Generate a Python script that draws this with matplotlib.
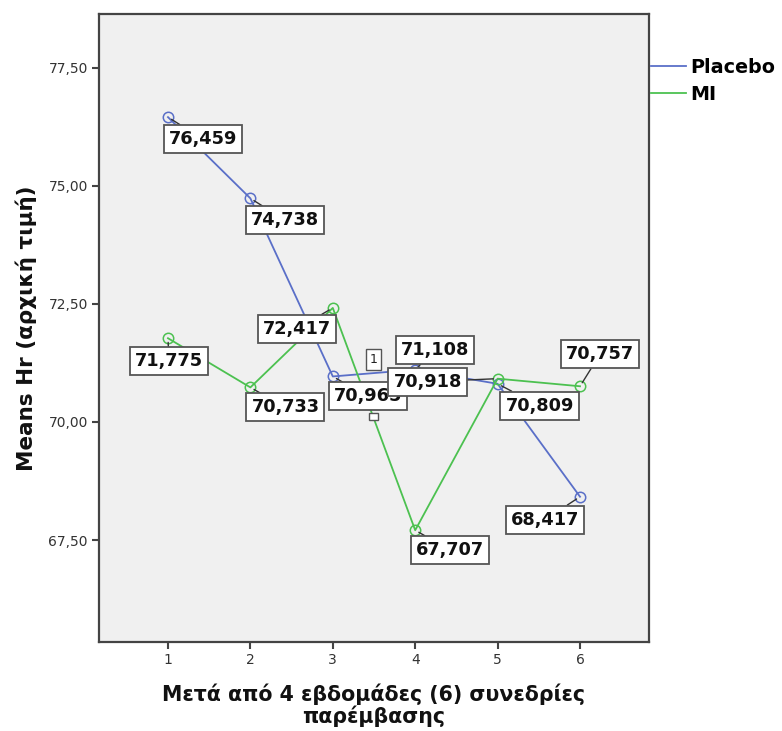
import matplotlib.pyplot as plt
from matplotlib.ticker import FuncFormatter, FixedLocator

# Mean heart rate per intervention session
sessions = [1, 2, 3, 4, 5, 6]
placebo = [76.459, 74.738, 70.965, 71.108, 70.809, 68.417]
mi = [71.775, 70.733, 72.417, 67.707, 70.918, 70.757]
y_ticks = [67.5, 70.0, 72.5, 75.0, 77.5]
series_names = ["Placebo", "MI"]

# label box offsets in pixels from each point
placebo_offsets = [(35, -22), (35, -22), (35, -20), (20, 20), (42, -22), (-35, -23)]
mi_offsets = [(1, -23), (35, -20), (-36, -21), (35, -20), (-70, -3), (20, 32)]

BLUE = "#5a6fc8"
GREEN = "#4cc150"
FRAME = "#444444"

fig = plt.figure(figsize=(7.82, 7.31), dpi=100)
ax = fig.add_axes([99 / 782, 1 - 642 / 731, 550 / 782, 628 / 731])
ax.set_facecolor("#f0f0f0")

ax.set_xlim(0.163, 6.837)
ax.set_ylim(65.339, 78.644)

lp, = ax.plot(sessions, placebo, color=BLUE, lw=1.3, marker="o", ms=7.5,
              mfc="none", mec=BLUE, mew=1.1, zorder=3, label=series_names[0])
lm, = ax.plot(sessions, mi, color=GREEN, lw=1.3, marker="o", ms=7.5,
              mfc="none", mec=GREEN, mew=1.1, zorder=3, label=series_names[1])

box = dict(boxstyle="square,pad=0.28", fc="white", ec="#555555", lw=1.3)
arrow = dict(arrowstyle="-", color="#333333", lw=1.0, shrinkA=0, shrinkB=3)


def fmt3(v):
    return f"{v:.3f}".replace(".", ",")


for xs, ys, offs in ((sessions, placebo, placebo_offsets), (sessions, mi, mi_offsets)):
    for x, y, (dx, dy) in zip(xs, ys, offs):
        ax.annotate(fmt3(y), xy=(x, y), xytext=(dx, dy), textcoords="offset pixels",
                    ha="center", va="center", fontsize=12.8, fontweight="bold",
                    color="#111111", bbox=box, arrowprops=arrow, zorder=6)

# small auxiliary boxes beside the third Placebo point
ax.annotate("1", xy=(sessions[2], placebo[2]), xytext=(41, 17), textcoords="offset pixels",
            ha="center", va="center", fontsize=9, color="#222222",
            bbox=dict(boxstyle="square,pad=0.3", fc="white", ec="#555555", lw=1.0), zorder=5)
ax.annotate("    ", xy=(sessions[2], placebo[2]), xytext=(41, -40), textcoords="offset pixels",
            ha="center", va="center", fontsize=4,
            bbox=dict(boxstyle="square,pad=0.2", fc="white", ec="#555555", lw=1.0), zorder=5)

ax.xaxis.set_major_locator(FixedLocator(sessions))
ax.yaxis.set_major_locator(FixedLocator(y_ticks))
ax.yaxis.set_major_formatter(FuncFormatter(lambda v, p: f"{v:.2f}".replace(".", ",")))
ax.tick_params(axis="both", direction="out", length=5, width=1.5, color=FRAME,
               labelsize=10, labelcolor="#333333", pad=3)

for s in ax.spines.values():
    s.set_color(FRAME)
    s.set_linewidth(1.6)

ax.set_ylabel("Means Hr (αρχική τιμή)", fontsize=15.5, fontweight="bold",
              color="#111111", labelpad=8)
ax.set_xlabel("Μετά από 4 εβδομάδες (6) συνεδρίες\nπαρέμβασης", fontsize=14.8,
              fontweight="bold", color="#111111", labelpad=12, linespacing=1.0)

fig.legend(handles=[lp, lm], labels=series_names, loc="upper left",
           bbox_to_anchor=(651 / 782, 1 - 58 / 731), frameon=False,
           prop=dict(weight="bold", size=13.8), handlelength=1.8, handletextpad=0.25,
           labelspacing=0.42, borderaxespad=0, borderpad=0)
for h in fig.legends[0].legend_handles:
    h.set_marker("")

fig.savefig("out.png", dpi=100)
